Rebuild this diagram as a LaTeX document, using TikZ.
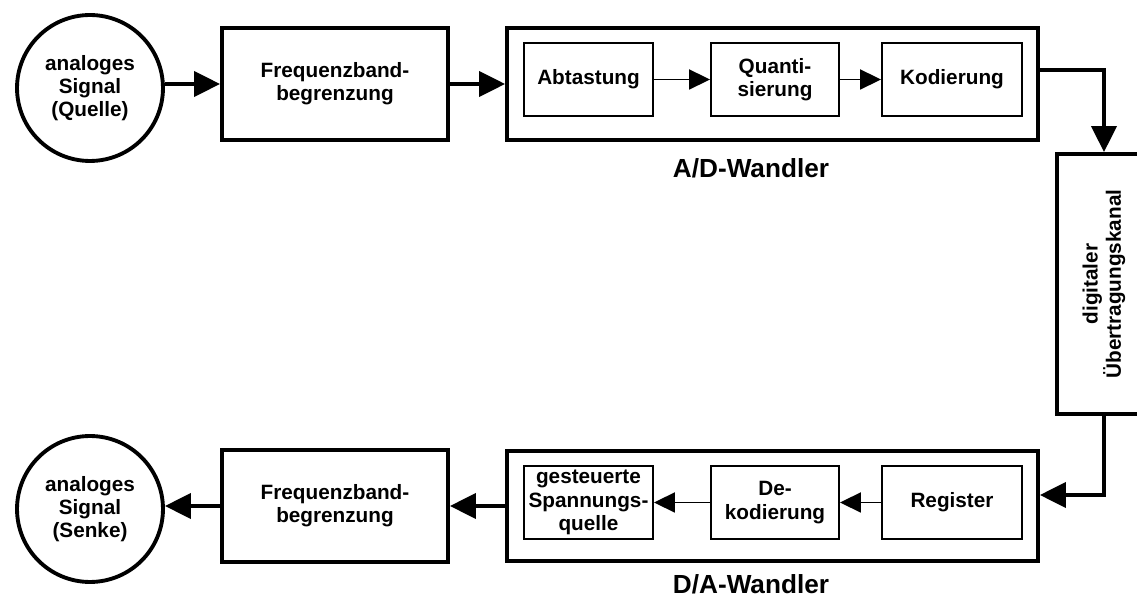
\documentclass[tikz,border=0pt]{standalone}
\usepackage{fontspec}
\setmainfont{Liberation Sans}
\usetikzlibrary{arrows.meta}
\tikzset{every node/.append style={font=\fontsize{11.8}{13.2}\selectfont\bfseries, align=center}}
\tikzset{block/.style={draw, line width=2.2pt, inner sep=0pt, minimum width=4.52cm, minimum height=2.24cm}}
\tikzset{subblock/.style={draw, line width=1.1pt, inner sep=0pt, minimum width=2.58cm, minimum height=1.46cm}}
\tikzset{signal/.style={circle, draw, line width=2.2pt, inner sep=0pt, minimum size=2.92cm}}
\tikzset{caption/.style={font=\fontsize{14.9}{17}\selectfont\bfseries}}
\tikzset{arc/.style={line width=1.1pt, -{Triangle[length=0.42cm,width=0.4cm]}}}
\tikzset{fatarc/.style={line width=2.2pt, -{Triangle[length=0.52cm,width=0.5cm]}}}

\begin{document}
\begin{tikzpicture}[x=0.02cm,y=-0.02cm]
\clip (0,0) rectangle (1137,597);
%Quelle und A/D-Wandler
\node (src) at (90,88)[signal]{analoges\\Signal\\(Quelle)};
\node (freqA) at (335,84)[block]{Frequenzband-\\begrenzung};
\node (ad) at (772.5,84)[block, minimum width=10.62cm]{};
\node (abt) at (588.5,79.5)[subblock]{Abtastung};
\node (quant) at (775,79.5)[subblock, minimum width=2.56cm]{Quanti-\\sierung};
\node (kod) at (952,79.5)[subblock, minimum width=2.8cm]{Kodierung};
\node (adlabel) at (751,168)[caption]{A/D-Wandler};
%Kanal
\node (kanal) at (1104,284)[block, minimum width=1.88cm, minimum height=5.2cm]{};
\node (kanaltext) at (kanal)[rotate=90]{digitaler\\Übertragungskanal};
%D/A-Wandler und Senke
\node (da) at (772.5,506)[block, minimum width=10.62cm, minimum height=2.2cm]{};
\node (reg) at (952,502.5)[subblock, minimum width=2.8cm]{Register};
\node (dekod) at (775,502.5)[subblock, minimum width=2.56cm]{De-\\kodierung};
\node (gest) at (588.5,502.5)[subblock]{gesteuerte\\Spannungs-\\quelle};
\node (dalabel) at (751,584)[caption]{D/A-Wandler};
\node (freqB) at (335,506)[block]{Frequenzband-\\begrenzung};
\node (snk) at (90,509)[signal]{analoges\\Signal\\(Senke)};

\draw[fatarc] (freqA.west -| src.east)--(freqA.west);
\draw[fatarc] (freqA)--(ad);
\draw[arc] (abt)--(quant);
\draw[arc] (quant)--(kod);
\draw[fatarc] ([yshift=0.28cm]ad.east) -| (kanal.north);
\draw[fatarc] (kanal.south) |- ([yshift=0.22cm]da.east);
\draw[arc] (reg)--(dekod);
\draw[arc] (dekod)--(gest);
\draw[fatarc] (da)--(freqB);
\draw[fatarc] (freqB.west)--(freqB.west -| snk.east);
\end{tikzpicture}
\end{document}
